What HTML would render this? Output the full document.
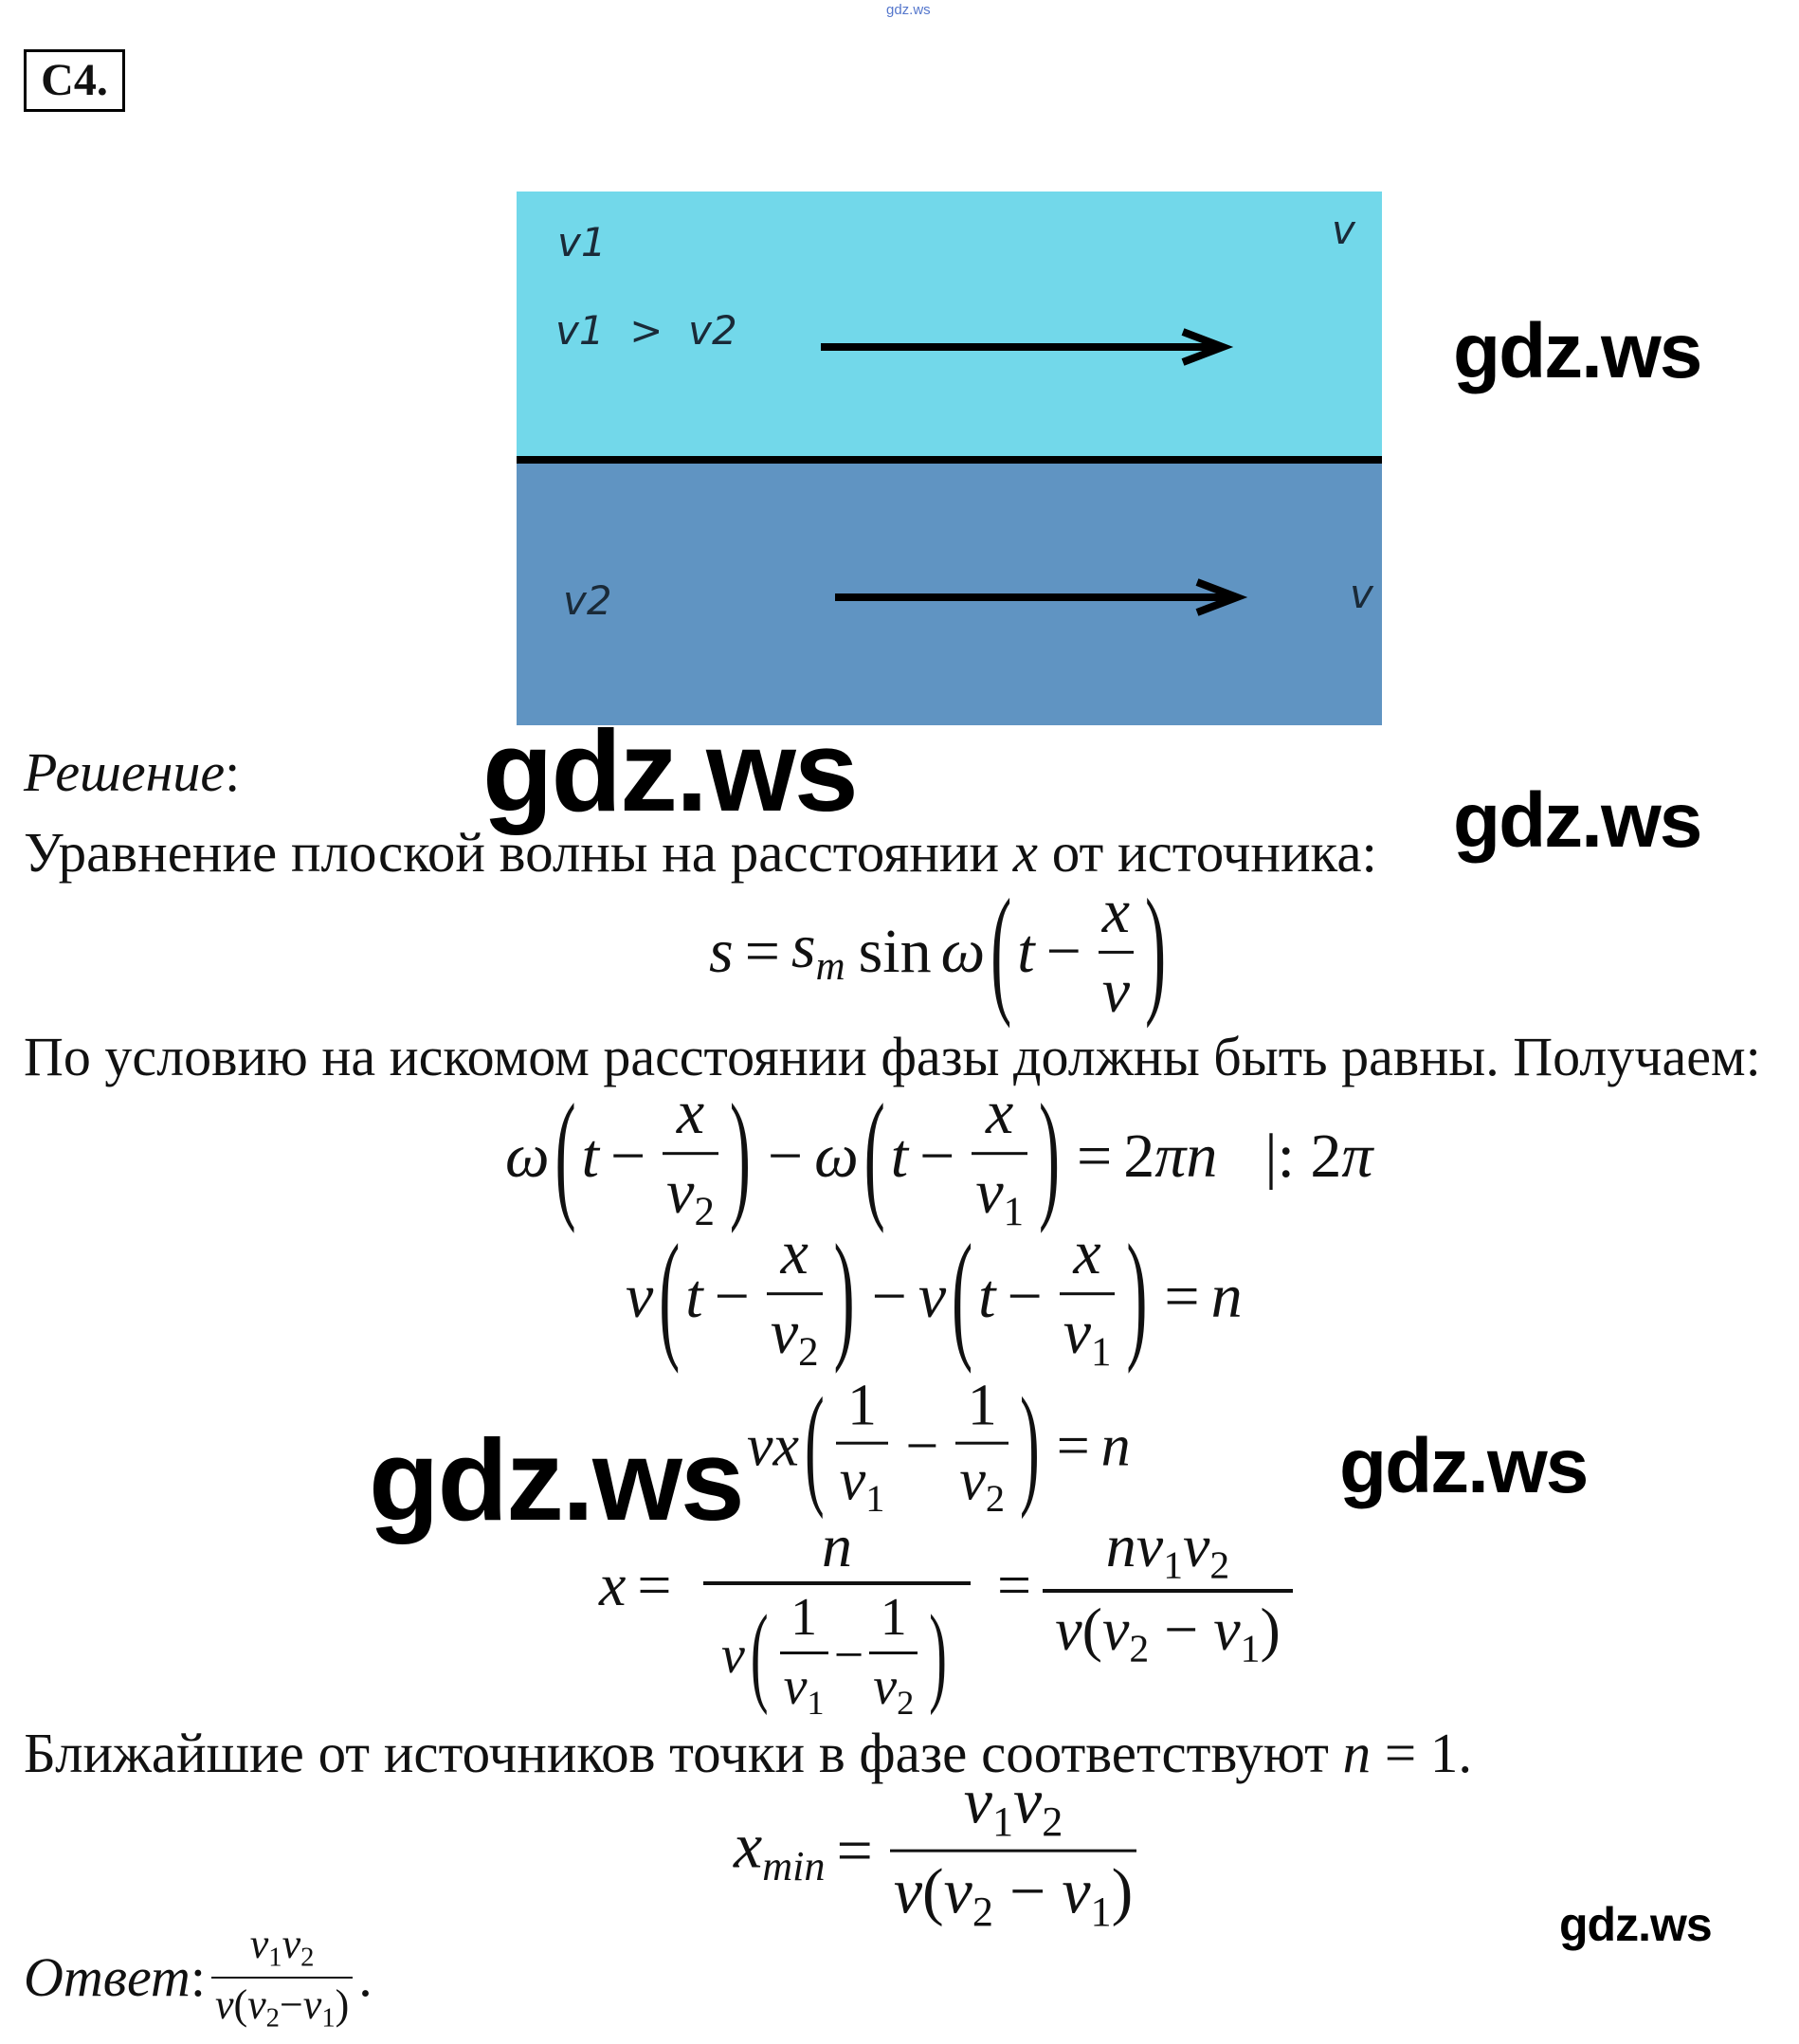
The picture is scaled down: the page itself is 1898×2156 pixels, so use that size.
<!DOCTYPE html>
<html><head><meta charset="utf-8">
<style>
html,body{margin:0;padding:0;background:#fff;}
body{width:1898px;height:2156px;position:relative;overflow:hidden;font-family:"Liberation Serif",serif;color:#111;}
.a{position:absolute;white-space:nowrap;}
.wm{position:absolute;font-family:"Liberation Sans",sans-serif;font-weight:bold;color:#000;white-space:nowrap;line-height:1;letter-spacing:-2px;}
.txt{position:absolute;font-size:58px;white-space:nowrap;line-height:1;}
.eq{position:absolute;transform:translateY(-50%);display:flex;align-items:center;font-size:66px;font-style:italic;white-space:nowrap;line-height:1;}
.eq .n{font-style:normal;}
.op{font-style:normal;margin:0 12px;}
.fr{display:inline-flex;flex-direction:column;align-items:center;margin:0 6px;}
.fr>span{line-height:1.1;padding:0 4px;}
.bar{height:3px;background:#111;align-self:stretch;margin:4px 0;padding:0!important;}
.p{display:inline-block;font-style:normal;transform:scaleY(2.3);font-weight:300;margin:0 6px;}
sub{font-size:0.65em;font-style:normal;vertical-align:-0.3em;}
.dv{font-family:"DejaVu Sans",sans-serif;font-style:italic;color:#1a2a38;position:absolute;font-size:42px;line-height:1;}
.af{position:absolute;display:flex;flex-direction:column;align-items:center;font-size:64px;font-style:italic;line-height:1;white-space:nowrap;}
.af>span{line-height:1.1;}
.af .n{font-style:normal;}
</style></head>
<body>
<div class="a" style="left:935px;top:2px;font-family:'Liberation Sans',sans-serif;font-size:15px;color:#5577cc;">gdz.ws</div>

<div class="a" style="left:25px;top:52px;width:101px;height:60px;border:3px solid #000;font-size:48px;font-weight:bold;line-height:60px;text-align:center;">C4.</div>

<div style="position:absolute;left:545px;top:202px;width:913px;height:282px;background:#72d8ea;"></div>
<div style="position:absolute;left:545px;top:481px;width:913px;height:8px;background:#000;"></div>
<div style="position:absolute;left:545px;top:489px;width:913px;height:276px;background:#6094c2;"></div>
<div class="dv" style="left:588px;top:235px;">v1</div>
<div class="dv" style="left:586px;top:328px;">v1 &nbsp;&gt; &nbsp;v2</div>
<div class="dv" style="left:1405px;top:222px;">v</div>
<div class="dv" style="left:594px;top:613px;">v2</div>
<div class="dv" style="left:1424px;top:606px;">v</div>
<svg style="position:absolute;left:0;top:0" width="1898" height="800">
<line x1="866" y1="366" x2="1288" y2="366" stroke="#000" stroke-width="8"/>
<polyline points="1248,350 1290,366 1248,382" fill="none" stroke="#000" stroke-width="8"/>
<line x1="881" y1="630" x2="1303" y2="630" stroke="#000" stroke-width="8"/>
<polyline points="1263,614 1305,630 1263,646" fill="none" stroke="#000" stroke-width="8"/>
</svg>

<div class="wm" style="left:1533px;top:330px;font-size:82px;">gdz.ws</div>
<div class="wm" style="left:509px;top:752px;font-size:122px;">gdz.ws</div>
<div class="wm" style="left:1533px;top:825px;font-size:82px;">gdz.ws</div>
<div class="wm" style="left:389px;top:1500px;font-size:122px;">gdz.ws</div>
<div class="wm" style="left:1413px;top:1506px;font-size:82px;">gdz.ws</div>
<div class="wm" style="left:1645px;top:2005px;font-size:50px;letter-spacing:-1px;">gdz.ws</div>

<div class="txt" style="left:25px;top:786px;font-style:italic;">Решение<span style="font-style:normal">:</span></div>
<div class="txt" style="left:25px;top:870px;font-size:59px;">Уравнение плоской волны на расстоянии <i>x</i> от источника:</div>

<div class="eq" style="left:748px;top:1004px;"><span>s</span><span class="op">=</span><span>s<sub style="font-style:italic">m</sub></span><span class="n" style="margin-left:14px">sin</span><span style="margin-left:10px">ω</span><span class="p">(</span><span>t</span><span class="op">−</span><span class="fr"><span>x</span><span class="bar"></span><span>v</span></span><span class="p">)</span></div>

<div class="txt" style="left:25px;top:1086px;">По условию на искомом расстоянии фазы должны быть равны. Получаем:</div>

<div class="eq" style="left:533px;top:1220px;"><span>ω</span><span class="p">(</span><span>t</span><span class="op">−</span><span class="fr"><span>x</span><span class="bar"></span><span>v<sub>2</sub></span></span><span class="p">)</span><span class="op">−</span><span>ω</span><span class="p">(</span><span>t</span><span class="op">−</span><span class="fr"><span>x</span><span class="bar"></span><span>v<sub>1</sub></span></span><span class="p">)</span><span class="op">=</span><span><span class="n">2</span>πn</span><span class="n" style="margin-left:50px">|: 2</span><span>π</span></div>

<div class="eq" style="left:660px;top:1368px;"><span>ν</span><span class="p">(</span><span>t</span><span class="op">−</span><span class="fr"><span>x</span><span class="bar"></span><span>v<sub>2</sub></span></span><span class="p">)</span><span class="op">−</span><span>ν</span><span class="p">(</span><span>t</span><span class="op">−</span><span class="fr"><span>x</span><span class="bar"></span><span>v<sub>1</sub></span></span><span class="p">)</span><span class="op">=</span><span>n</span></div>

<div class="eq" style="left:788px;top:1526px;font-size:62px;"><span>νx</span><span class="p">(</span><span class="fr"><span class="n">1</span><span class="bar"></span><span>v<sub>1</sub></span></span><span class="op">−</span><span class="fr"><span class="n">1</span><span class="bar"></span><span>v<sub>2</sub></span></span><span class="p">)</span><span class="op">=</span><span>n</span></div>

<!-- eq5 -->
<div class="eq" style="left:632px;top:1672px;font-size:64px;"><span>x</span><span class="op">=</span></div>
<div class="af" style="left:742px;top:1596px;width:282px;">
<span>n</span>
<div style="height:4px;background:#111;width:100%;margin:2px 0 4px;"></div>
<div style="display:flex;align-items:center;font-size:56px;"><span>ν</span><span class="p" style="transform:scaleY(2.1)">(</span><span class="fr"><span class="n">1</span><span class="bar"></span><span>v<sub>1</sub></span></span><span class="n">−</span><span class="fr"><span class="n">1</span><span class="bar"></span><span>v<sub>2</sub></span></span><span class="p" style="transform:scaleY(2.1)">)</span></div>
</div>
<div class="eq" style="left:1040px;top:1672px;font-size:64px;"><span class="op">=</span></div>
<div class="af" style="left:1100px;top:1596px;width:264px;">
<span>nv<sub>1</sub>v<sub>2</sub></span>
<div style="height:4px;background:#111;width:100%;margin:2px 0 4px;"></div>
<span>ν<span class="n">(</span>v<sub>2</sub><span class="n"> − </span>v<sub>1</sub><span class="n">)</span></span>
</div>

<div class="txt" style="left:25px;top:1820px;font-size:59px;">Ближайшие от источников точки в фазе соответствуют <i>n</i> = 1.</div>

<div class="eq" style="left:774px;top:1952px;font-size:68px;"><span>x<sub style="font-style:italic">min</sub></span><span class="op">=</span><span class="fr"><span>v<sub>1</sub>v<sub>2</sub></span><span class="bar"></span><span>ν<span class="n">(</span>v<sub>2</sub><span class="n"> − </span>v<sub>1</sub><span class="n">)</span></span></span></div>

<div class="eq" style="left:25px;top:2086px;font-size:58px;"><span>Ответ<span class="n">:</span></span><span class="fr" style="font-size:44px;"><span>v<sub>1</sub>v<sub>2</sub></span><span class="bar" style="height:2px;"></span><span>ν<span class="n">(</span>v<sub>2</sub><span class="n">−</span>v<sub>1</sub><span class="n">)</span></span></span><span class="n">.</span></div>
</body></html>
